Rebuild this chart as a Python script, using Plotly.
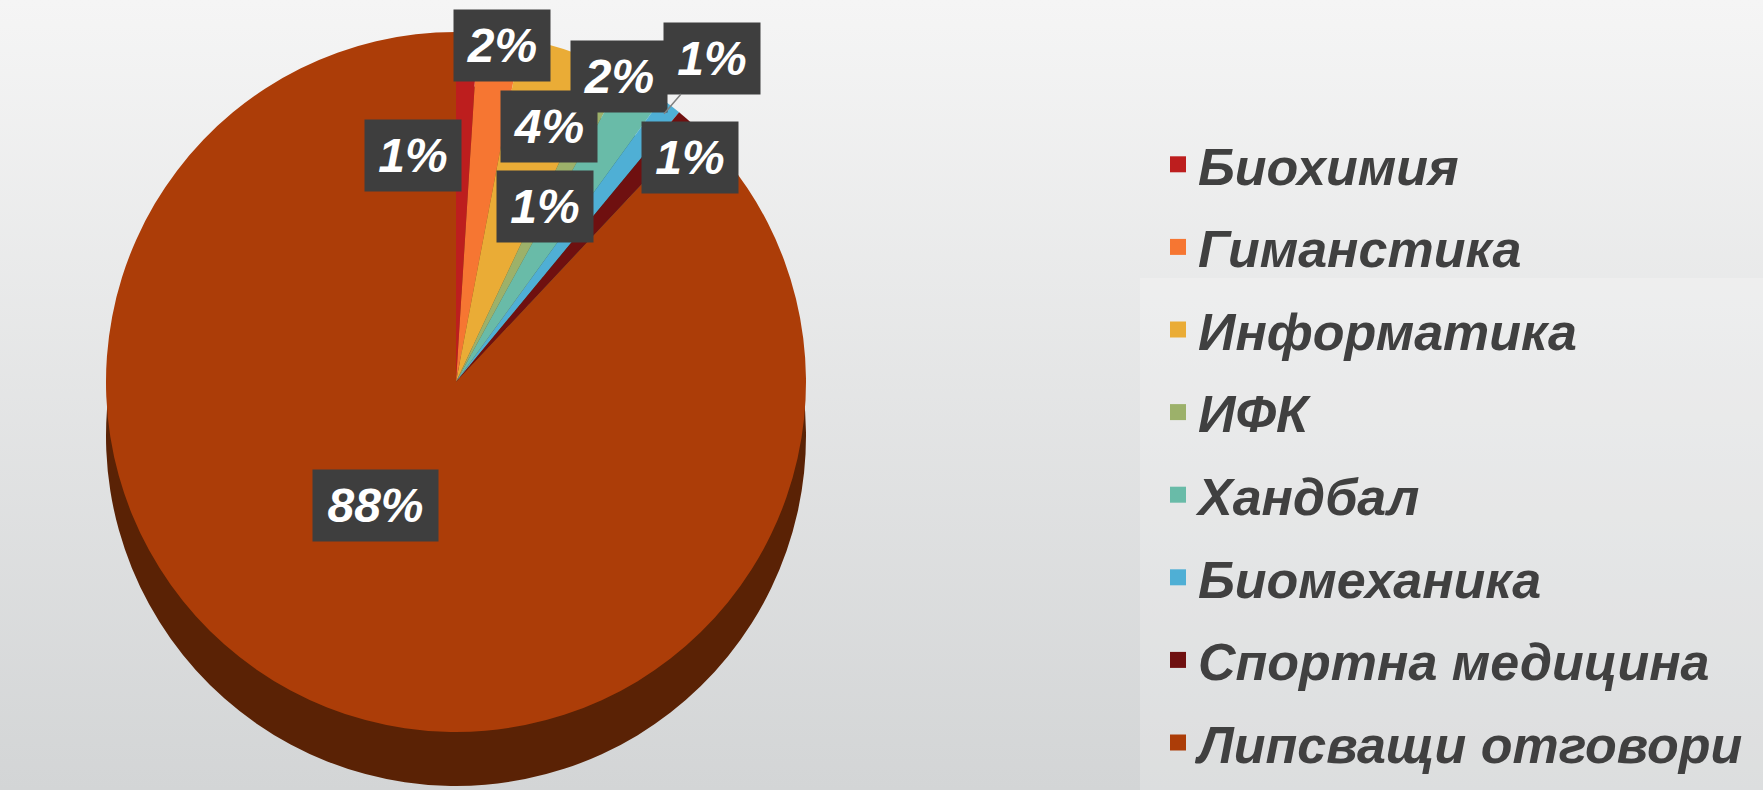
import math
import plotly.graph_objects as go

# ---- data ----
categories = ["Биохимия", "Гиманстика", "Информатика", "ИФК", "Хандбал",
              "Биомеханика", "Спортна медицина", "Липсващи отговори"]
values = [1, 2, 4, 1, 2, 1, 1, 88]

# ---- styles ----
colors = ["#BD1E1E", "#F67632", "#EAAC36", "#9CB16A", "#69BBA8",
          "#4FAFD5", "#6F1010", "#AC3D08"]
depth_colors = ["#5E0F0F", "#7B3B19", "#75561B", "#4E5835", "#345D54",
                "#27576A", "#380808", "#5A2205"]
# label box centres (pixels)
label_pos = [(413, 155), (502, 45), (549, 126), (545, 206), (619, 76),
             (712, 58), (690, 157), (375, 505)]

W, H = 1763, 790
cx, cy, R, depth = 456, 382, 350, 54

fig = go.Figure()

# background gradient
fig.add_trace(go.Scatter(
    x=[0, W, W, 0, 0], y=[0, 0, H, H, 0], fill="toself", mode="none",
    fillgradient=dict(type="vertical",
                      colorscale=[[0, "#d3d5d6"], [1, "#f5f5f5"]]),
    hoverinfo="skip", showlegend=False))

# legend entries
for cat, col in zip(categories, colors):
    fig.add_trace(go.Scatter(
        x=[None], y=[None], mode="markers", name=cat, legendgroup=cat,
        marker=dict(symbol="square", size=22, color=col), showlegend=True))


def dom(cx_, cy_):
    return dict(x=[(cx_ - R) / W, (cx_ + R) / W],
                y=[1 - (cy_ + R) / H, 1 - (cy_ - R) / H])


# side (depth) of the pie
fig.add_trace(go.Pie(
    labels=categories, values=values, sort=False, direction="clockwise",
    rotation=0, textinfo="none", hoverinfo="skip", showlegend=False,
    marker=dict(colors=depth_colors, line=dict(width=0)),
    domain=dom(cx, cy + depth)))

# top of the pie
fig.add_trace(go.Pie(
    labels=categories, values=values, sort=False, direction="clockwise",
    rotation=0, textinfo="none", showlegend=False,
    marker=dict(colors=colors, line=dict(width=0)),
    domain=dom(cx, cy)))

total = sum(values)
annotations = []
cum = 0
for i, (v, (lx, ly)) in enumerate(zip(values, label_pos)):
    pct = round(v / total * 100)
    txt = f"<b><i>{pct}%</i></b>"
    w = 94 if len(str(pct)) == 1 else 123
    mid = (cum + v / 2) / total * 2 * math.pi
    cum += v
    ann = dict(text=txt, xref="x", yref="y", bgcolor="#3e3e3e",
               font=dict(family="Liberation Sans, Arial", size=48, color="white"),
               width=w, height=69, align="center", valign="middle")
    if i == 5:
        tx = cx + R * 0.97 * math.sin(mid)
        ty = cy - R * 0.97 * math.cos(mid)
        ann.update(x=tx, y=ty, ax=lx, ay=ly, axref="x", ayref="y",
                   showarrow=True, arrowhead=0, arrowwidth=1.5,
                   arrowcolor="#808080", standoff=0)
    else:
        ann.update(x=lx, y=ly, showarrow=False)
    annotations.append(ann)

fig.update_layout(
    width=W, height=H,
    margin=dict(l=0, r=0, t=0, b=0, autoexpand=False),
    paper_bgcolor="#eeeeee", plot_bgcolor="rgba(0,0,0,0)",
    xaxis=dict(range=[0, W], visible=False, fixedrange=True),
    yaxis=dict(range=[H, 0], visible=False, fixedrange=True),
    showlegend=True,
    legend=dict(x=1158 / W, xanchor="left", y=1 - 124 / H, yanchor="top",
                maxheight=780,
                font=dict(family="Liberation Sans, Arial", size=52,
                          color="#404040", weight="bold", style="italic"),
                tracegroupgap=12, itemwidth=30, bgcolor="rgba(0,0,0,0)"),
    annotations=annotations,
    shapes=[dict(type="rect", xref="x", yref="y", x0=1140, x1=W, y0=278, y1=H,
                 fillcolor="rgba(255,255,255,0.22)", line=dict(width=0),
                 layer="above")],
)

fig.write_html("out.html", config={"displayModeBar": False},
               post_script="document.body.style.margin='0';")
